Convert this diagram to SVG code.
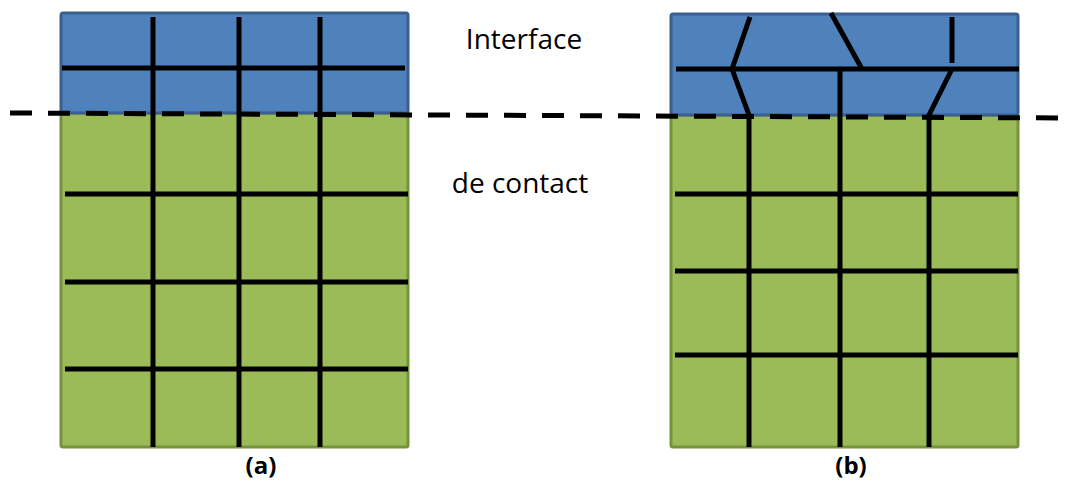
<svg xmlns="http://www.w3.org/2000/svg" width="1069" height="482" viewBox="0 0 1069 482">
<style>
.blue{fill:#4f81bd;stroke:#3b5f8f;stroke-width:3}
.green{fill:#9bbb59;stroke:#76923c;stroke-width:3}
.g{stroke:#000;stroke-width:5;fill:none;stroke-linecap:butt}
.dash{stroke:#000;stroke-width:5;stroke-dasharray:22 16;fill:none}
.lbl{font-family:"Open Sans","Liberation Sans",sans-serif;font-size:28px;fill:#000}
.cap{font-family:"Open Sans","Liberation Sans",sans-serif;font-size:24px;font-weight:bold;fill:#000}
</style>
<g id="panel-a">
<rect class="green" x="61" y="113" width="347" height="334" rx="2"/>
<rect class="blue" x="61" y="13" width="347" height="100" rx="2"/>
<g class="g">
<line x1="153" y1="17" x2="153" y2="447"/>
<line x1="239" y1="17" x2="239" y2="447"/>
<line x1="320" y1="17" x2="320" y2="447"/>
<line x1="62" y1="68" x2="405" y2="68"/>
<line x1="65" y1="194" x2="408" y2="194"/>
<line x1="65" y1="282" x2="408" y2="282"/>
<line x1="65" y1="369" x2="408" y2="369"/>
</g>
</g>
<g id="panel-b">
<rect class="green" x="671" y="115" width="347" height="332" rx="2"/>
<rect class="blue" x="671" y="14" width="347" height="101" rx="2"/>
<g class="g">
<polyline points="750,17 732,69 749,115 749,447"/>
<line x1="831" y1="13" x2="862" y2="69"/>
<line x1="840" y1="69" x2="840" y2="447"/>
<line x1="952" y1="17" x2="952" y2="63"/>
<polyline points="952,69 929,115 929,447"/>
<line x1="676" y1="69" x2="1019" y2="69"/>
<line x1="675" y1="194" x2="1018" y2="194"/>
<line x1="675" y1="271" x2="1018" y2="271"/>
<line x1="675" y1="355" x2="1018" y2="355"/>
</g>
</g>
<g id="connectors">
<line class="dash" x1="10" y1="113" x2="1069" y2="118"/>
</g>
<g id="labels">
<text class="lbl" x="524" y="49" text-anchor="middle">Interface</text>
<text class="lbl" x="520" y="193" text-anchor="middle">de contact</text>
<text class="cap" x="261" y="474" text-anchor="middle">(a)</text>
<text class="cap" x="851" y="474" text-anchor="middle">(b)</text>
</g>
</svg>
